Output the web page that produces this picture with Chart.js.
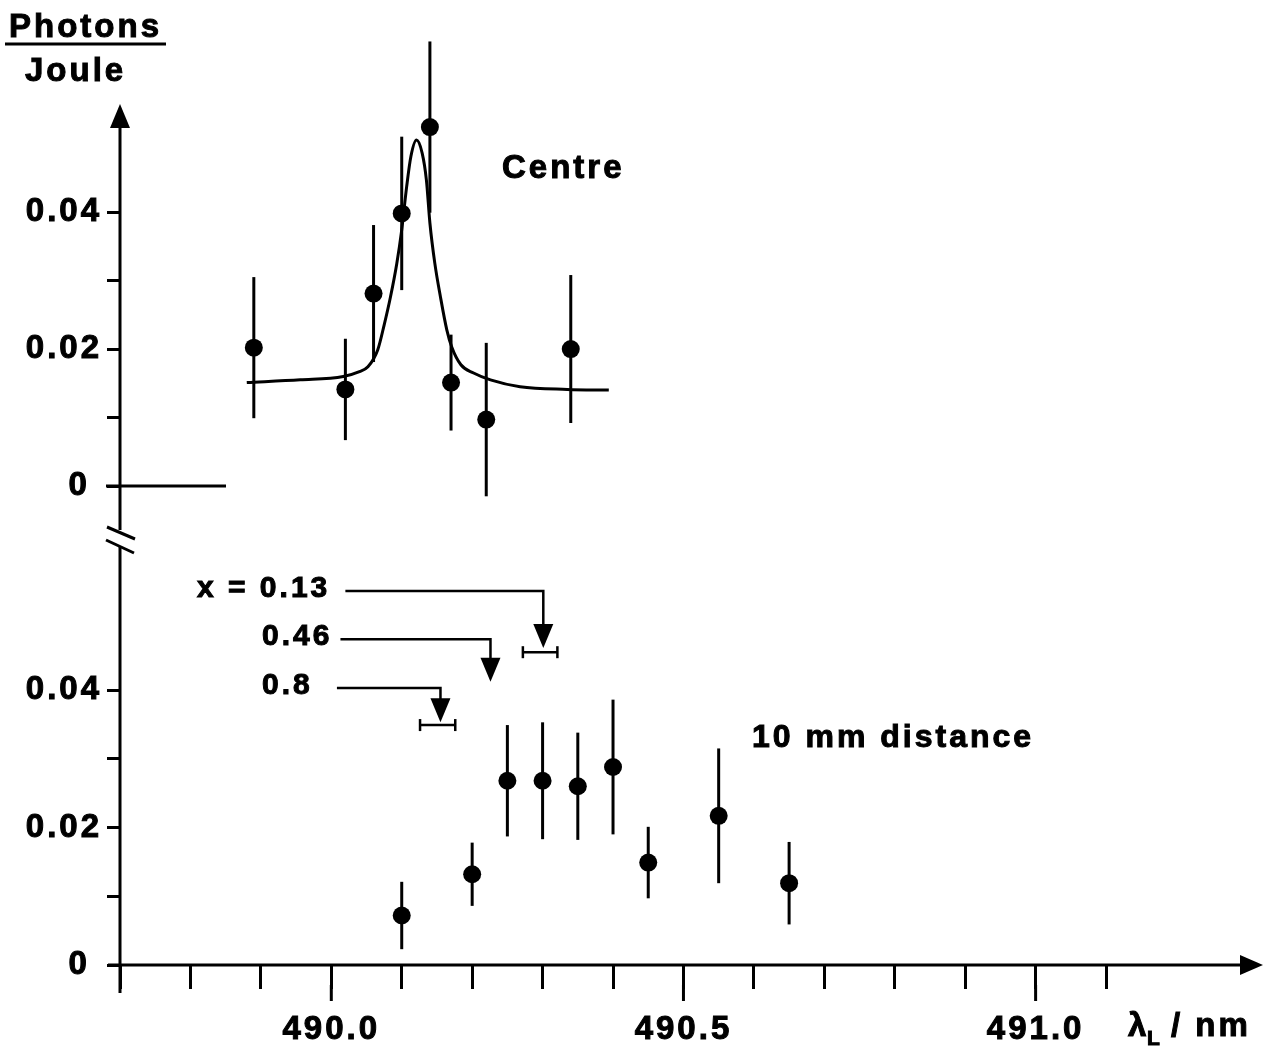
<!DOCTYPE html>
<html>
<head>
<meta charset="utf-8">
<script src="https://cdn.jsdelivr.net/npm/chart.js@4/dist/chart.umd.min.js"></script>
<style>
  html, body { margin: 0; padding: 0; background: #fff; }
  canvas { display: block; }
</style>
</head>
<body>
<canvas id="myChart" width="1272" height="1056"></canvas>
<script>
// wavelength lambda_L in nm, signal in photons / joule

// "Centre" measurement
const centreLambda = [489.89, 490.02, 490.06, 490.10, 490.14, 490.17, 490.22, 490.34];
const centreSignal = [0.0202, 0.0141, 0.0281, 0.0398, 0.0524, 0.0151, 0.0097, 0.0200];
const centreError  = [0.0103, 0.0074, 0.0100, 0.0112, 0.0125, 0.0070, 0.0112, 0.0108];

// fitted line through the centre data
const fitLambda = [489.880, 489.956, 490.017, 490.040, 490.052, 490.066, 490.075, 490.084,
                   490.093, 490.100, 490.107, 490.113, 490.121, 490.129, 490.135, 490.140,
                   490.147, 490.155, 490.164, 490.171, 490.184, 490.202, 490.226, 490.268,
                   490.335, 490.394];
const fitSignal = [0.0151, 0.0155, 0.0160, 0.0167, 0.0174, 0.0199, 0.0235, 0.0276,
                   0.0325, 0.0374, 0.0437, 0.0481, 0.0505, 0.0486, 0.0447, 0.0384,
                   0.0325, 0.0276, 0.0228, 0.0203, 0.0177, 0.0165, 0.0155, 0.0145,
                   0.0141, 0.0140];

// "10 mm distance" measurement
const distLambda = [490.10, 490.20, 490.25, 490.30, 490.35, 490.40, 490.45, 490.55, 490.65];
const distSignal = [0.0072, 0.0132, 0.0268, 0.0268, 0.0260, 0.0288, 0.0149, 0.0217, 0.0119];
const distError  = [0.0049, 0.0046, 0.0081, 0.0085, 0.0078, 0.0098, 0.0052, 0.0098, 0.0060];

// arrows marking x = 0.13 / 0.46 / 0.8 (lower panel)
const annoLabels      = ['x = 0.13', '0.46', '0.8'];
const annoLineSignal  = [0.0544, 0.0474, 0.0403];
const annoStartLambda = [490.020, 490.013, 490.008];
const annoArrowLambda = [490.301, 490.226, 490.155];
const annoTipSignal   = [0.0461, 0.0412, 0.0353];
const annoBarSignal   = [0.0455, null, 0.0349];
const annoBarLo       = [490.272, null, 490.126];
const annoBarHi       = [490.321, null, 490.176];

// axes
const xTickValues = [489.7, 489.8, 489.9, 490.0, 490.1, 490.2, 490.3, 490.4,
                     490.5, 490.6, 490.7, 490.8, 490.9, 491.0, 491.1];
const xTickLabels = ['', '', '', '490.0', '', '', '', '', '490.5', '', '', '', '', '491.0', ''];
const yTickValues = [0, 0.01, 0.02, 0.03, 0.04];
const yTickLabels = ['0 ', '', '0.02', '', '0.04'];

const FONT = '"Liberation Sans", Arial, Helvetica, sans-serif';

const toPoints = (xs, ys) => xs.map((v, i) => ({x: v, y: ys[i]}));

function line(ctx, x1, y1, x2, y2) {
    ctx.beginPath();
    ctx.moveTo(x1, y1);
    ctx.lineTo(x2, y2);
    ctx.stroke();
}

function tri(ctx, pts) {
    ctx.beginPath();
    ctx.moveTo(pts[0], pts[1]);
    ctx.lineTo(pts[2], pts[3]);
    ctx.lineTo(pts[4], pts[5]);
    ctx.closePath();
    ctx.fill();
}

// bold scanned look: fill + thin stroke
function text(ctx, str, x, y) {
    ctx.lineWidth = 1;
    ctx.fillText(str, x, y);
    ctx.strokeText(str, x, y);
}

const figureDecor = {
    id: 'figureDecor',
    beforeDraw(chart) {
        chart.ctx.letterSpacing = '3px';
    },
    beforeDatasetsDraw(chart) {
        const {ctx, scales: {x, yTop, yBot}} = chart;
        ctx.save();
        ctx.strokeStyle = '#000';
        ctx.lineWidth = 3;
        const bars = (xs, ys, es, yScale) => {
            xs.forEach((lx, i) => {
                const px = x.getPixelForValue(lx);
                line(ctx, px, yScale.getPixelForValue(ys[i] + es[i]), px, yScale.getPixelForValue(ys[i] - es[i]));
            });
        };
        bars(centreLambda, centreSignal, centreError, yTop);
        bars(distLambda, distSignal, distError, yBot);
        ctx.restore();
    },
    afterDraw(chart) {
        const {ctx, scales: {x, yTop, yBot}} = chart;
        const left = x.left;
        const split = yTop.bottom;
        ctx.save();
        ctx.strokeStyle = '#000';
        ctx.fillStyle = '#000';
        ctx.lineWidth = 3;

        // y axis, upper part with arrow
        line(ctx, left, split - 10, left, yTop.top + 20);
        tri(ctx, [left, yTop.top, left - 10, yTop.top + 24, left + 10, yTop.top + 24]);
        // y axis, lower part
        line(ctx, left, split + 7, left, yBot.bottom + 28);
        // axis break
        line(ctx, left - 13, split - 13, left + 15, split - 1);
        line(ctx, left - 14, split, left + 14, split + 13);
        // zero line of upper panel
        const z = yTop.getPixelForValue(0);
        line(ctx, left - 14, z, left + 106, z);

        // x axis with arrow
        const xb = yBot.bottom;
        line(ctx, left - 12, xb, x.right - 10, xb);
        tri(ctx, [x.right + 2, xb, x.right - 21, xb - 10, x.right - 21, xb + 10]);
        // longer ticks at labelled values
        xTickValues.forEach((v, i) => {
            if (xTickLabels[i]) {
                const px = x.getPixelForValue(v);
                line(ctx, px, xb + 20, px, xb + 36);
            }
        });

        // x = ... arrows
        ctx.font = `bold 30px ${FONT}`;
        ctx.textBaseline = 'middle';
        ctx.textAlign = 'left';
        const textLeft = [197, 262, 262];
        annoLabels.forEach((lab, i) => {
            const ly = yBot.getPixelForValue(annoLineSignal[i]);
            const sx = x.getPixelForValue(annoStartLambda[i]);
            const ax = x.getPixelForValue(annoArrowLambda[i]);
            const ty = yBot.getPixelForValue(annoTipSignal[i]);
            ctx.lineWidth = 2.5;
            ctx.beginPath();
            ctx.moveTo(sx, ly);
            ctx.lineTo(ax, ly);
            ctx.lineTo(ax, ty - 20);
            ctx.stroke();
            tri(ctx, [ax, ty, ax - 10, ty - 24, ax + 10, ty - 24]);
            if (annoBarSignal[i] !== null) {
                const by = yBot.getPixelForValue(annoBarSignal[i]);
                const b1 = x.getPixelForValue(annoBarLo[i]);
                const b2 = x.getPixelForValue(annoBarHi[i]);
                line(ctx, b1, by, b2, by);
                line(ctx, b1, by - 6, b1, by + 6);
                line(ctx, b2, by - 6, b2, by + 6);
            }
            text(ctx, lab, textLeft[i], ly - 2);
        });

        // texts
        ctx.font = `bold 33px ${FONT}`;
        text(ctx, 'Photons', 9, 28);
        ctx.lineWidth = 3;
        line(ctx, 5, 44, 166, 44);
        text(ctx, 'Joule', 25, 72);
        text(ctx, 'Centre', 502, 169);
        ctx.font = `bold 32px ${FONT}`;
        text(ctx, '10 mm distance', 752, 738);

        // x axis title
        ctx.font = `bold 33px ${FONT}`;
        text(ctx, '\u03bb', 1128, 1027);
        ctx.font = `bold 21px ${FONT}`;
        text(ctx, 'L', 1147, 1039);
        ctx.font = `bold 33px ${FONT}`;
        text(ctx, '/ nm', 1171, 1027);
        ctx.restore();
    }
};

const tickFont = {family: FONT, size: 33, weight: 'bold'};

const ctx = document.getElementById('myChart').getContext('2d');

const chart = new Chart(ctx, {
    type: 'scatter',
    data: {
        datasets: [
            {
                label: 'Centre',
                data: toPoints(centreLambda, centreSignal),
                yAxisID: 'yTop',
                pointRadius: 9,
                backgroundColor: '#000',
                borderWidth: 0,
                order: 1
            },
            {
                label: 'Fit',
                data: toPoints(fitLambda, fitSignal),
                yAxisID: 'yTop',
                showLine: true,
                cubicInterpolationMode: 'monotone',
                borderColor: '#000',
                borderWidth: 3,
                pointRadius: 0,
                order: 2
            },
            {
                label: '10 mm distance',
                data: toPoints(distLambda, distSignal),
                yAxisID: 'yBot',
                pointRadius: 9,
                backgroundColor: '#000',
                borderWidth: 0,
                order: 1
            }
        ]
    },
    options: {
        responsive: false,
        animation: false,
        layout: {padding: {top: 104, right: 11, bottom: 0, left: 0}},
        plugins: {
            legend: {display: false},
            tooltip: {enabled: false}
        },
        scales: {
            x: {
                type: 'linear',
                min: 489.7,
                max: 491.32,
                afterBuildTicks: s => { s.ticks = xTickValues.map(v => ({value: v})); },
                afterFit: s => { s.height = 91; },
                border: {display: false},
                grid: {drawOnChartArea: false, tickLength: 24, lineWidth: 3, color: '#000'},
                ticks: {
                    autoSkip: false,
                    maxRotation: 0,
                    padding: 21,
                    color: '#000',
                    textStrokeColor: '#000',
                    textStrokeWidth: 1,
                    font: tickFont,
                    callback: (v, i) => xTickLabels[i]
                }
            },
            yTop: {
                type: 'linear',
                position: 'left',
                stack: 'panels',
                stackWeight: 436,
                weight: 2,
                min: -0.00788,
                max: 0.05577,
                afterBuildTicks: s => { s.ticks = yTickValues.map(v => ({value: v})); },
                afterFit: s => { s.width = 120; },
                border: {display: false},
                grid: {drawOnChartArea: false, tickLength: 13, lineWidth: 3, color: '#000'},
                ticks: {padding: 5, color: '#000', textStrokeColor: '#000', textStrokeWidth: 1,
                        font: tickFont, callback: (v, i) => yTickLabels[i]}
            },
            yBot: {
                type: 'linear',
                position: 'left',
                stack: 'panels',
                stackWeight: 425,
                weight: 1,
                min: 0,
                max: 0.06182,
                afterBuildTicks: s => { s.ticks = yTickValues.map(v => ({value: v})); },
                afterFit: s => { s.width = 120; },
                border: {display: false},
                grid: {drawOnChartArea: false, tickLength: 13, lineWidth: 3, color: '#000'},
                ticks: {padding: 5, color: '#000', textStrokeColor: '#000', textStrokeWidth: 1,
                        font: tickFont, callback: (v, i) => yTickLabels[i]}
            }
        }
    },
    plugins: [figureDecor]
});
</script>
</body>
</html>
